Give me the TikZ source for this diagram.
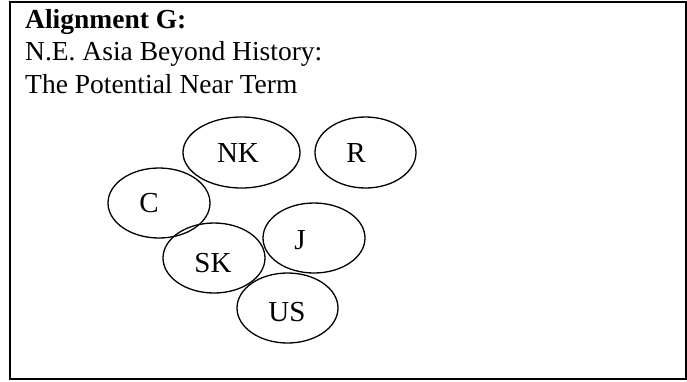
\documentclass[tikz,border=0pt]{standalone}
\usepackage{fontspec}
\setmainfont{Liberation Serif}
\usetikzlibrary{shapes.geometric}
\begin{document}
\begin{tikzpicture}[x=1pt,y=-1pt,
  ell/.style={draw,line width=1.3pt,ellipse,inner sep=0pt},
  lbl/.style={font=\fontsize{29}{32}\selectfont,inner sep=0pt,anchor=base},
  ttl/.style={font=\fontsize{27.5}{32}\selectfont,inner sep=0pt,anchor=base west}]
\useasboundingbox (0,0) rectangle (687,381);
\draw[line width=2pt] (10,1.5) rectangle (686,379);
\node[ttl,font=\fontsize{27.5}{32}\selectfont\bfseries] (t1) at (25,28) {Alignment G:};
\node[ttl] (t2) at (25,60) {N.E. Asia Beyond History:};
\node[ttl] (t3) at (25,93) {The Potential Near Term};
\node[ell,minimum width=117,minimum height=71] (NK) at (241.5,152.5) {};
\node[ell,minimum width=101,minimum height=71] (R) at (365.5,152.5) {};
\node[ell,minimum width=102,minimum height=70] (C) at (159,203) {};
\node[ell,minimum width=102,minimum height=70] (J) at (314,238) {};
\node[ell,minimum width=102,minimum height=70] (SK) at (214,258) {};
\node[ell,minimum width=101,minimum height=70] (US) at (287.5,308) {};
\node[lbl] (lNK) at (238,162) {NK};
\node[lbl] (lR) at (356,162) {R};
\node[lbl] (lC) at (149,212) {C};
\node[lbl] (lJ) at (300,249) {J};
\node[lbl] (lSK) at (213,272) {SK};
\node[lbl] (lUS) at (287,321) {US};
\end{tikzpicture}
\end{document}
